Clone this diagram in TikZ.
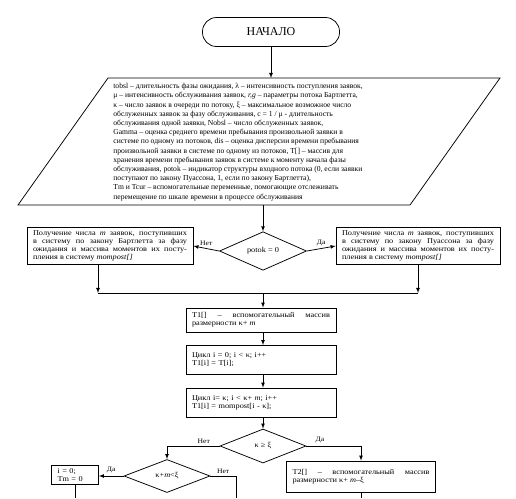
\documentclass[tikz,border=0pt]{standalone}
\usepackage{fontspec}
\setmainfont{Liberation Serif}
\newfontfamily\boxfont{Liberation Serif}[FakeStretch=1.12]
\usetikzlibrary{shapes.geometric}
\begin{document}
\begin{tikzpicture}[>=latex, x=1pt, y=-1pt, line width=.75pt,
  box/.style={draw, rectangle, align=justify, font=\boxfont\fontsize{7.4}{8}\selectfont, inner xsep=6pt, inner ysep=3pt},
  dec/.style={draw, diamond, inner sep=0pt, font=\boxfont\fontsize{7.4}{8}\selectfont},
  lab/.style={font=\boxfont\fontsize{6.8}{7}\selectfont, inner sep=2.5pt}]
\useasboundingbox (0,0) rectangle (516,498);
% start
\node[draw, rounded corners=14pt, minimum width=137pt, minimum height=29pt, font=\fontsize{12}{14}\selectfont] (start) at (271,32) {НАЧАЛО};
% input data
\draw (108,78) -- (500,78) -- (410,205) -- (18,205) -- cycle;
\coordinate (vin) at (271,78);
\coordinate (vout) at (263,205);
\node[anchor=north west, align=left, inner sep=0pt, font=\fontsize{7.6}{9.2}\selectfont] (vars) at (113,83) {%
tobsl – длительность фазы ожидания, λ – интенсивность  поступления заявок,\\
μ – интенсивность  обслуживания  заявок, \textit{r,g} – параметры потока Бартлетта,\\
κ – число заявок в очереди по потоку, ξ – максимальное возможное число\\
обслуженных заявок за фазу обслуживания,  c = 1 / μ - длительность\\
обслуживания одной  заявки, Nobsl – число обслуженных заявок,\\
Gamma – оценка среднего времени пребывания произвольной заявки в\\
системе по одному из потоков,  dis – оценка  дисперсии времени пребывания\\
произвольной заявки в системе по одному из потоков, T[] – массив для\\
хранения времени пребывания заявок в системе к моменту начала фазы\\
обслуживания,  potok – индикатор структуры входного потока  (0, если заявки\\
поступают по закону Пуассона, 1, если по закону Бартлетта),\\
Tm и Tcur – вспомогательные переменные, помогающие отслеживать\\
перемещение по шкале времени в процессе обслуживания};
\draw[->] (start) -- (vin);
% choice of input flow
\node[dec, minimum width=87pt, minimum height=38pt] (potok) at (263,251) {potok = 0};
\node[box, text width=154pt] (bart) at (110,246) {Получение числа \textit{m} заявок, поступивших\linebreak
в систему по закону Бартлетта за фазу\linebreak
ожидания и массива моментов их посту-\linebreak
пления в систему \textit{mompost[]}};
\node[box, text width=152pt] (pois) at (418,246) {Получение числа \textit{m} заявок, поступивших\linebreak
в систему по закону Пуассона за фазу\linebreak
ожидания и массива моментов их посту-\linebreak
пления в систему \textit{mompost[]}};
\draw[->] (vout) -- (potok.north);
\draw[->] (potok.west) -- node[lab, above]{Нет} (bart.east);
\draw[->] (potok.east) -- node[lab, above]{Да} (pois.east -| pois.west);
\coordinate (ml) at (98,293);
\coordinate (mr) at (418,293);
\coordinate (mrg) at (263,293);
\draw (ml) -- (mr);
\draw[->] (bart.south -| ml) -- (ml);
\draw[->] (pois.south) -- (pois.south |- mr);
% arrays and loops
\node[box, text width=138pt, minimum height=24pt] (t1) at (261,320) {T1[] – вспомогательный массив\linebreak размерности κ+ \textit{m}};
\node[box, text width=138pt, minimum height=29pt, align=left] (c1) at (261,360) {Цикл i = 0; i < κ; i++\\ T1[i] = T[i];};
\node[box, text width=138pt, minimum height=29pt, align=left] (c2) at (261,402.5) {Цикл i= κ; i < κ+ \textit{m}; i++\\ T1[i] = mompost[i - κ];};
\draw[->] (mrg) -- (t1.north -| mrg);
\draw[->] (t1.south -| mrg) -- (c1.north -| mrg);
\draw[->] (c1.south -| mrg) -- (c2.north -| mrg);
% comparison with xi
\node[dec, minimum width=86pt, minimum height=34pt] (kx) at (263,446) {κ ≥ ξ};
\node[dec, minimum width=86pt, minimum height=33pt] (km) at (167,476) {κ+\textit{m}<ξ};
\node[box, align=left, text width=35pt, inner ysep=3pt] (init) at (75,475) {i = 0;\\ Tm = 0};
\node[box, text width=137pt, minimum height=31pt] (t2) at (361,476.5) {T2[] – вспомогательный массив\linebreak размерности κ+ \textit{m}–ξ};
\coordinate (bot) at (0,498);
\coordinate (kmno) at (236,476);
\draw[->] (c2.south -| mrg) -- (kx.north);
\draw[->] (kx.west) -- node[lab, above, pos=.3]{Нет} (kx.west -| km.north) -- (km.north);
\draw[->] (kx.east) -- node[lab, above, pos=.25]{Да} (kx.east -| t2.north) -- (t2.north);
\draw[->] (km.west) -- node[lab, above]{Да} (init.east |- km.west);
\draw (km.east) -- node[lab, above]{Нет} (kmno) -- (kmno |- bot);
\draw (init.south) -- (init.south |- bot);
\draw (t2.south) -- (t2.south |- bot);
\end{tikzpicture}
\end{document}
